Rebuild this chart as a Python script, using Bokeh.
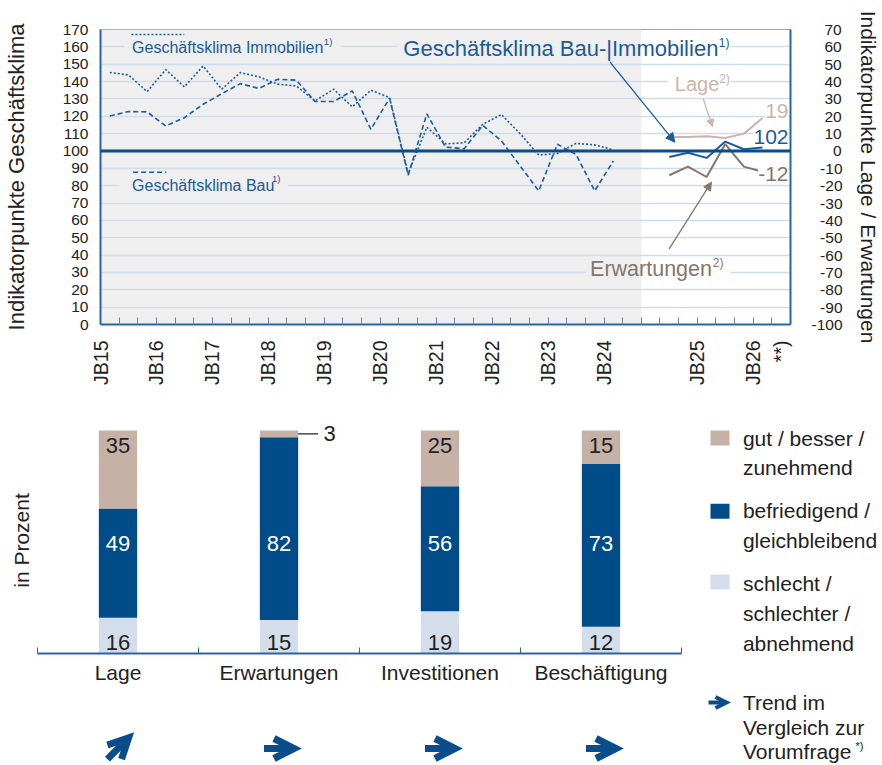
from math import pi, cos, sin
from bokeh.plotting import figure
from bokeh.models import (ColumnDataSource, Range1d, LinearAxis, FixedTicker, BoxAnnotation,
                          Span, Label, LabelSet, Arrow, NormalHead, OpenHead)
from bokeh.layouts import column
from bokeh.embed import file_html
from bokeh.resources import INLINE
from bokeh.core.properties import value

# ---------------- data: top chart (Geschaeftsklima) ----------------
hist_period = list(range(28))            # survey periods (one x interval each)
klima_immobilien = [145.2, 143.8, 134.2, 146.9, 136.9, 149.0, 135.6, 145.2, 142.7, 138.5,
                    137.5, 128.8, 135.6, 125.4, 135.0, 130.8, 87.0, 113.7, 104.1, 104.7,
                    115.4, 121.0, 110.0, 97.7, 98.5, 104.4, 103.5, 100.6]
klima_bau = [120.2, 122.7, 122.5, 114.4, 119.2, 126.9, 133.0, 138.8, 136.0, 141.3,
             140.8, 128.5, 128.5, 134.6, 112.5, 130.4, 86.0, 121.4, 102.2, 101.3,
             114.8, 105.8, 91.4, 77.0, 103.9, 98.0, 77.0, 94.2]
recent_period = [30, 31, 32, 33, 34, 35]
klima_bau_immo = [96.5, 99.0, 96.0, 105.4, 101.0, 102.0]
lage_saldo = [8.0, 8.0, 8.5, 7.5, 10.0, 19.0]
erwartungen_saldo = [-14.0, -9.0, -15.0, 4.0, -9.0, -12.0]

year_tick_pos = [0, 3, 6, 9, 12, 15, 18, 21, 24, 27, 32, 35, 36.5]
year_tick_labels = ["JB15", "JB16", "JB17", "JB18", "JB19", "JB20", "JB21", "JB22",
                    "JB23", "JB24", "JB25", "JB26", "**)"]
left_ticks = list(range(0, 171, 10))
right_ticks = list(range(-100, 71, 10))

# ---------------- data: bottom chart (Umfrage in Prozent) ----------------
categories = ["Lage", "Erwartungen", "Investitionen", "Beschäftigung"]
gut_besser = [35, 3, 25, 15]
befriedigend = [49, 82, 56, 73]
schlecht = [16, 15, 19, 12]
trend = ["steigend", "gleich", "gleich", "gleich"]

# ---------------- styles ----------------
FONT = "Liberation Sans"
GRAY_BG = "#efefef"
GRID = "#cfdcea"
AXIS = "#2a65a3"
TICK = "#5a87b8"
LINE_BLUE = "#1f5e9e"
THICK = "#0b4c8c"
KLIMA_RECENT = "#1a5b9c"
LAGE_C = "#c9b6ab"
ERW_C = "#84766a"
TITLE_BLUE = "#1c5a98"
TEXT = "#222222"
BAR_GUT = "#c6b1a6"
BAR_BEFR = "#004c88"
BAR_SCHL = "#d3deea"
ARROW_BLUE = "#0a4d8c"

# page-pixel -> data helpers (layout only)
def tx(px):
    return (px - 99.0) / (692 / 37)

def ty(py):
    return 170 - (py - 29.0) / (295 / 170)

def bx(px):
    return (px - 37.0) / 161.0

def by(py):
    return (653.0 - py) * 100 / 223.0

def ly(py):          # trend strip (page y 690..765)
    return 765.0 - py


def add_label(fig, x, y, text, size, color, align="left", baseline="middle", angle=0.0,
              bg=None, font=FONT, y_offset=0, y_range_name="default"):
    kw = dict(x=x, y=y, text=text, text_font=font, text_font_size=f"{size}px",
              text_color=color, text_align=align, text_baseline=baseline, angle=angle,
              y_offset=y_offset, y_range_name=y_range_name)
    if bg is not None:
        kw.update(background_fill_color=bg, background_fill_alpha=1.0)
    fig.add_layout(Label(**kw))


def pad_label(v):
    s = str(v)
    n = len(s.lstrip("-"))
    if s.startswith("-"):
        return "\u2007" * (3 - n) + s
    return "\u2007" * (3 - n) + "\u2008" + s

# ================= TOP FIGURE =================
top = figure(width=882, height=400, x_range=Range1d(0, 37), y_range=Range1d(0, 170),
             output_backend="svg", toolbar_location=None,
             min_border_left=99, min_border_right=91, min_border_top=29, min_border_bottom=76)
top.extra_y_ranges = {"right": Range1d(-100, 70)}
top.outline_line_color = "#8aa7c8"
top.outline_line_width = 1
top.background_fill_color = "white"

top.add_layout(BoxAnnotation(left=0, right=29, fill_color=GRAY_BG, fill_alpha=1.0,
                             line_color=None, level="image"))

top.xgrid.visible = False
top.ygrid.ticker = FixedTicker(ticks=left_ticks)
top.ygrid.grid_line_color = GRID
top.ygrid.grid_line_width = 1.3

# masks that interrupt grid lines behind texts
def mask(l, r, t, b, color):
    top.add_layout(BoxAnnotation(left=tx(l), right=tx(r), top=ty(t), bottom=ty(b),
                                 fill_color=color, fill_alpha=1.0, line_color=None,
                                 level="underlay"))

mask(123, 340, 42, 51, GRAY_BG)
mask(118, 287, 181, 189, GRAY_BG)
mask(396.7, 641, 42, 51, GRAY_BG)
mask(641, 731, 42, 51, "white")
mask(668, 731, 77, 85, "white")
mask(586, 641, 268, 276, GRAY_BG)
mask(641, 731, 268, 276, "white")

ya = top.yaxis[0]
ya.ticker = FixedTicker(ticks=left_ticks)
ya.major_tick_in = 0
ya.major_tick_out = 0
ya.minor_tick_in = 0
ya.minor_tick_out = 0
ya.axis_line_color = AXIS
ya.axis_line_width = 2
ya.major_label_text_font = FONT
ya.major_label_text_font_size = "15.5px"
ya.major_label_text_color = TEXT
ya.major_label_standoff = 12
ya.axis_label = "Indikatorpunkte Geschäftsklima"
ya.axis_label_text_font = FONT
ya.axis_label_text_font_size = "22px"
ya.axis_label_text_font_style = "normal"
ya.axis_label_text_color = TEXT
ya.axis_label_standoff = 31

ra = LinearAxis(y_range_name="right", ticker=FixedTicker(ticks=right_ticks),
                major_label_overrides={v: pad_label(v) for v in right_ticks})
ra.major_tick_in = 0
ra.major_tick_out = 0
ra.minor_tick_in = 0
ra.minor_tick_out = 0
ra.axis_line_color = AXIS
ra.axis_line_width = 2
ra.major_label_text_font = FONT
ra.major_label_text_font_size = "15.5px"
ra.major_label_text_color = TEXT
ra.major_label_standoff = 21
ra.axis_label = "Indikatorpunkte Lage / Erwartungen"
ra.axis_label_text_font = FONT
ra.axis_label_text_font_size = "21px"
ra.axis_label_text_font_style = "normal"
ra.axis_label_text_color = TEXT
ra.axis_label_standoff = 11
top.add_layout(ra, "right")

xa = top.xaxis[0]
xa.ticker = FixedTicker(ticks=year_tick_pos, minor_ticks=list(range(38)))
xa.major_label_overrides = dict(zip(year_tick_pos, year_tick_labels))
xa.major_label_orientation = pi / 2
xa.major_tick_in = 0
xa.major_tick_out = 0
xa.minor_tick_in = 7
xa.minor_tick_out = 0
xa.minor_tick_line_color = TICK
xa.axis_line_color = AXIS
xa.axis_line_width = 2
xa.major_label_text_font = FONT
xa.major_label_text_font_size = "19.5px"
xa.major_label_text_color = TEXT
xa.major_label_standoff = 16

hist = ColumnDataSource(dict(x=[p + 0.5 for p in hist_period],
                             immo=klima_immobilien, bau=klima_bau))
top.line("x", "immo", source=hist, line_color=LINE_BLUE, line_width=1.6, line_dash="2 2")
top.line("x", "bau", source=hist, line_color=LINE_BLUE, line_width=1.6, line_dash="5 3")

recent = ColumnDataSource(dict(x=[p + 0.5 for p in recent_period], klima=klima_bau_immo,
                               lage=lage_saldo, erw=erwartungen_saldo))
top.line("x", "lage", source=recent, y_range_name="right", line_color=LAGE_C, line_width=2)
top.line("x", "erw", source=recent, y_range_name="right", line_color=ERW_C, line_width=2)
top.line("x", "klima", source=recent, line_color=KLIMA_RECENT, line_width=2)

top.add_layout(Span(location=100, dimension="width", line_color=THICK, line_width=3))

# legend samples (decoration)
top.line([tx(130), tx(183)], [ty(34), ty(34)], line_color=LINE_BLUE, line_width=1.6,
         line_dash="2 2")
top.line([tx(131.7), tx(165)], [ty(171.7), ty(171.7)], line_color=LINE_BLUE, line_width=1.6,
         line_dash="5 3")

add_label(top, tx(130.7), ty(47), "Geschäftsklima Immobilien", 16, TITLE_BLUE)
add_label(top, tx(323), ty(40.5), "1)", 9.5, TITLE_BLUE)
add_label(top, tx(130.7), ty(185), "Geschäftsklima Bau", 16, TITLE_BLUE)
add_label(top, tx(271), ty(177.5), "1)", 9.5, TITLE_BLUE)
add_label(top, tx(402.7), ty(48.3), "Geschäftsklima Bau-|Immobilien", 22, TITLE_BLUE)
add_label(top, tx(719), ty(42), "1)", 12, TITLE_BLUE)
add_label(top, tx(675), ty(83.3), "Lage", 20, LAGE_C)
add_label(top, tx(719.5), ty(78.5), "2)", 12, LAGE_C)
add_label(top, tx(590), ty(268.3), "Erwartungen", 21.5, ERW_C)
add_label(top, tx(713), ty(262.5), "2)", 12, ERW_C)

top.add_layout(Arrow(x_start=tx(610), y_start=ty(61.7), x_end=tx(675), y_end=ty(141.7),
                     line_color=TITLE_BLUE, line_width=1.3,
                     end=NormalHead(size=9, fill_color=TITLE_BLUE, line_color=TITLE_BLUE)))
top.add_layout(Arrow(x_start=tx(703.3), y_start=ty(97.7), x_end=tx(712.7), y_end=ty(126),
                     line_color=LAGE_C, line_width=1.3,
                     end=NormalHead(size=7, fill_color=LAGE_C, line_color=LAGE_C)))
top.add_layout(Arrow(x_start=tx(669.3), y_start=ty(248.3), x_end=tx(711.7), y_end=ty(181.7),
                     line_color=ERW_C, line_width=1.3,
                     end=NormalHead(size=8, fill_color=ERW_C, line_color=ERW_C)))

# end-value labels (kept inside the frame)
lbl_x = tx(789)
add_label(top, lbl_x, lage_saldo[-1], f"{lage_saldo[-1]:.0f}", 21, LAGE_C, align="right",
          bg="white", y_offset=7, y_range_name="right")
add_label(top, lbl_x, klima_bau_immo[-1], f"{klima_bau_immo[-1]:.0f}", 21, KLIMA_RECENT,
          align="right", bg="white", y_offset=11)
add_label(top, lbl_x, erwartungen_saldo[-1], f"{erwartungen_saldo[-1]:.0f}", 21, ERW_C,
          align="right", bg="white", y_offset=-2, y_range_name="right")

# ================= BOTTOM: BAR FIGURE (page y 400..690) =================
BAR_W = 0.238
shared_x = Range1d(bx(0), bx(882))
bars_fig = figure(width=882, height=290, x_range=shared_x, y_range=Range1d(0, by(400)),
                  output_backend="svg", toolbar_location=None, y_axis_location=None,
                  min_border_left=0, min_border_right=0, min_border_top=0,
                  min_border_bottom=37)
bars_fig.outline_line_color = None
bars_fig.xgrid.visible = False
bars_fig.ygrid.visible = False

xc = [i + 0.5 for i in range(len(categories))]
bars = ColumnDataSource(dict(x=xc, schlecht=schlecht, befriedigend=befriedigend,
                             gut=gut_besser))
bars_fig.vbar_stack(["schlecht", "befriedigend", "gut"], x="x", width=BAR_W, source=bars,
                    color=[BAR_SCHL, BAR_BEFR, BAR_GUT], line_color=None)

bxa = bars_fig.xaxis[0]
bxa.ticker = FixedTicker(ticks=xc, minor_ticks=list(range(len(categories) + 1)))
bxa.major_label_overrides = dict(zip(xc, categories))
bxa.bounds = (0, len(categories))
bxa.axis_line_color = AXIS
bxa.axis_line_width = 2
bxa.major_tick_in = 0
bxa.major_tick_out = 0
bxa.minor_tick_in = 6
bxa.minor_tick_out = 0
bxa.minor_tick_line_color = AXIS
bxa.major_label_text_font = FONT
bxa.major_label_text_font_size = "21px"
bxa.major_label_text_color = TEXT
bxa.major_label_standoff = 7

dark = dict(x=[], y=[], text=[])
white = dict(x=[], y=[], text=[])
for i, x in enumerate(xc):
    if gut_besser[i] >= 8:
        dark["x"].append(x); dark["y"].append(93.3); dark["text"].append(str(gut_besser[i]))
    else:
        yv = 100 - gut_besser[i] / 2
        bars_fig.segment(x0=[x + BAR_W / 2], y0=[yv], x1=[x + BAR_W / 2 + 0.124], y1=[yv],
                         line_color=TEXT, line_width=1.2)
        add_label(bars_fig, x + BAR_W / 2 + 0.157, yv, str(gut_besser[i]), 22, TEXT)
    white["x"].append(x); white["y"].append(49.3); white["text"].append(str(befriedigend[i]))
    dark["x"].append(x); dark["y"].append(4.8); dark["text"].append(str(schlecht[i]))

for d, col in ((dark, TEXT), (white, "white")):
    bars_fig.add_layout(LabelSet(x="x", y="y", text="text", source=ColumnDataSource(d),
                                 text_align="center", text_baseline="middle",
                                 text_font=value(FONT), text_font_size=value("22px"),
                                 text_color=col))

# legend
bars_fig.rect(x=[bx(719.5)] * 3, y=[by(437.5), by(510.8), by(581.5)], width=19, height=15,
              width_units="screen", height_units="screen",
              color=[BAR_GUT, BAR_BEFR, BAR_SCHL], line_color=None)
legend_lines = [("gut / besser /", 438), ("zunehmend", 467), ("befriedigend /", 510),
                ("gleichbleibend", 540), ("schlecht /", 583), ("schlechter /", 613),
                ("abnehmend", 643)]
for t, py in legend_lines:
    add_label(bars_fig, bx(742.4), by(py), t, 21, TEXT)

add_label(bars_fig, bx(21), by(540), "in Prozent", 21, TEXT, align="center", angle=pi / 2)

# ================= BOTTOM: TREND STRIP (page y 690..765) =================
trend_fig = figure(width=882, height=75, x_range=shared_x, y_range=Range1d(0, 75),
                   output_backend="svg", toolbar_location=None,
                   x_axis_location=None, y_axis_location=None,
                   min_border_left=0, min_border_right=0, min_border_top=0,
                   min_border_bottom=0)
trend_fig.outline_line_color = None
trend_fig.xgrid.visible = False
trend_fig.ygrid.visible = False

angle_of = {"steigend": pi / 4, "gleich": 0.0, "fallend": -pi / 4}
HALF = 15.0           # half arrow length in px
cy = ly(748)
angles = [angle_of[t] for t in trend]
arrow_src = ColumnDataSource(dict(
    x0=[x - HALF * cos(a) / 161 for x, a in zip(xc, angles)],
    y0=[cy - HALF * sin(a) for a in angles],
    x1=[x + HALF * cos(a) / 161 for x, a in zip(xc, angles)],
    y1=[cy + HALF * sin(a) for a in angles]))
trend_fig.add_layout(Arrow(source=arrow_src, x_start="x0", y_start="y0", x_end="x1",
                           y_end="y1", line_color=ARROW_BLUE, line_width=7,
                           end=OpenHead(size=20, line_color=ARROW_BLUE, line_width=7,
                                        line_join="miter")))

# legend arrow
trend_fig.add_layout(Arrow(x_start=bx(708), y_start=ly(702), x_end=bx(726), y_end=ly(702),
                           line_color=ARROW_BLUE, line_width=4,
                           end=OpenHead(size=11, line_color=ARROW_BLUE, line_width=4,
                                        line_join="miter")))
add_label(trend_fig, bx(742.4), ly(702), "Trend im", 21, TEXT)
add_label(trend_fig, bx(742.4), ly(727), "Vergleich zur", 21, TEXT)
add_label(trend_fig, bx(742.4), ly(751), "Vorumfrage", 21, TEXT)
add_label(trend_fig, bx(855), ly(745), "*)", 11, TEXT)

bottom = column(bars_fig, trend_fig)
open("out.html", "w").write(file_html([top, bottom], INLINE))
